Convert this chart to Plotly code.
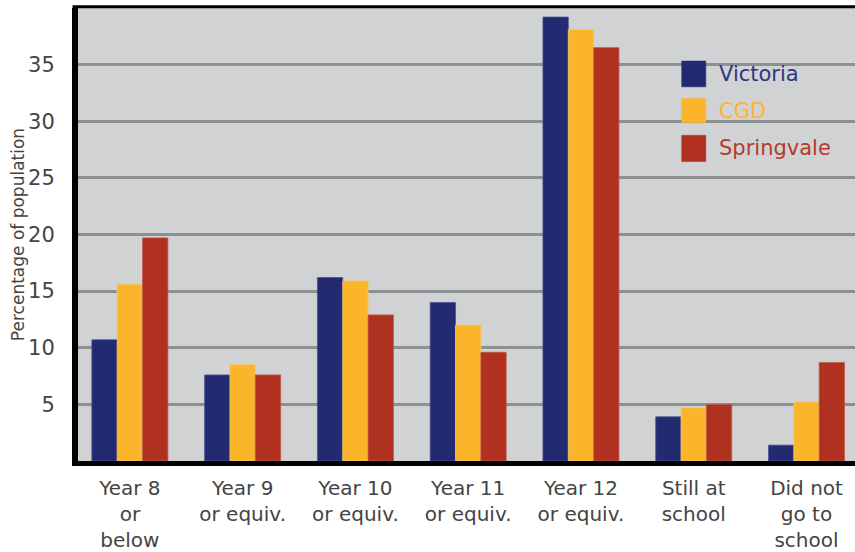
import plotly.graph_objects as go

# Highest level of schooling completed, share of population (%)
categories = [
    "Year 8<br>or<br>below",
    "Year 9<br>or equiv.",
    "Year 10<br>or equiv.",
    "Year 11<br>or equiv.",
    "Year 12<br>or equiv.",
    "Still at<br>school",
    "Did not<br>go to<br>school",
]
series_names = ["Victoria", "CGD", "Springvale"]
victoria = [10.7, 7.6, 16.2, 14.0, 39.2, 3.9, 1.4]
cgd = [15.6, 8.5, 15.9, 12.0, 38.1, 4.7, 5.2]
springvale = [19.7, 7.6, 12.9, 9.6, 36.5, 5.0, 8.7]
y_ticks = [5, 10, 15, 20, 25, 30, 35]

series_values = [victoria, cgd, springvale]
fill_colors = ["#222A72", "#FBB52B", "#B03120"]
edge_colors = ["#4A5290", "#F8C566", "#C2584A"]
label_colors = ["#2E3680", "#FBB52B", "#B53A2A"]

FONT = "DejaVu Sans"
TEXT = "#444444"

fig = go.Figure()
for name, vals, fc, ec in zip(series_names, series_values, fill_colors, edge_colors):
    fig.add_trace(go.Bar(
        x=categories, y=vals, name=name,
        marker=dict(color=fc, line=dict(color=ec, width=0.8)),
        showlegend=False,
    ))

fig.update_layout(
    width=855, height=552,
    margin=dict(l=78, r=0, t=8, b=86),
    paper_bgcolor="white",
    plot_bgcolor="#D1D2D4",
    barmode="group",
    bargap=0.326,
    bargroupgap=0,
    font=dict(family=FONT, color=TEXT),
)

fig.update_xaxes(
    type="category",
    range=[-0.46, 6.43],
    showgrid=False,
    showline=True, linecolor="black", linewidth=5,
    ticks="", tickfont=dict(size=20, color=TEXT, family=FONT),
    ticklabelstandoff=5,
)
fig.update_yaxes(
    range=[0, 40],
    tickvals=y_ticks,
    showgrid=True, gridcolor="#8E8F91", gridwidth=2.5,
    zeroline=False,
    showline=True, linecolor="black", linewidth=6,
    ticks="", tickfont=dict(size=21, color=TEXT, family=FONT),
    ticklabelstandoff=13,
    title=dict(text="Percentage of population",
               font=dict(size=17, color=TEXT, family=FONT),
               standoff=0),
)

# top border of the plotting frame
fig.add_shape(type="line", xref="paper", yref="paper",
              x0=-0.007, x1=1, y0=1.003, y1=1.003,
              line=dict(color="black", width=3))

# legend keys: coloured squares with series-coloured labels
key_x0, key_x1 = 0.777, 0.808
key_rows = [(0.826, 0.883), (0.747, 0.800), (0.661, 0.719)]
for name, fc, lc, (y0, y1) in zip(series_names, fill_colors, label_colors, key_rows):
    fig.add_shape(type="rect", xref="paper", yref="paper",
                  x0=key_x0, x1=key_x1, y0=y0, y1=y1,
                  fillcolor=fc, line=dict(color=fc, width=0.5))
    fig.add_annotation(xref="paper", yref="paper",
                       x=0.822, y=(y0 + y1) / 2, xanchor="left", yanchor="middle",
                       text=name, showarrow=False,
                       font=dict(size=21, color=lc, family=FONT))

fig.write_html("out.html")
